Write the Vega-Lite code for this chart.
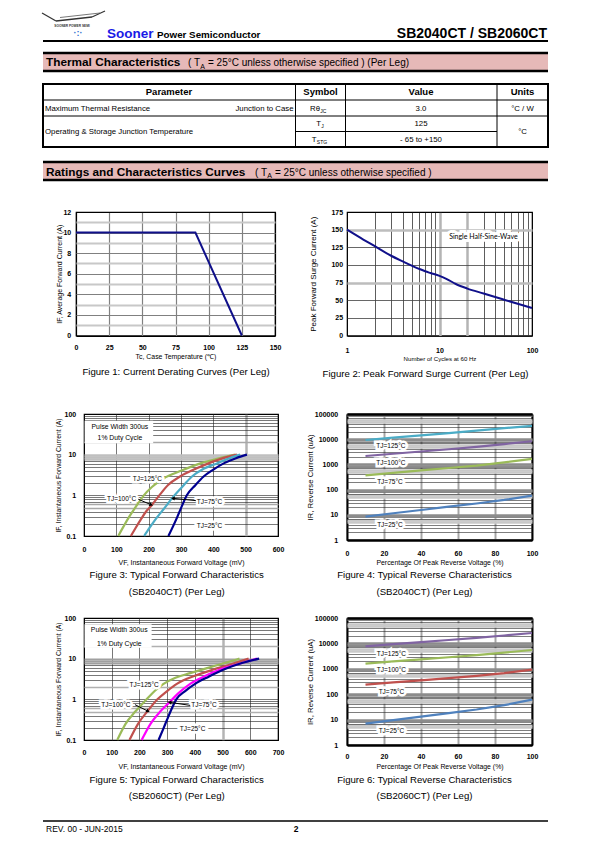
{
  "$schema": "https://vega.github.io/schema/vega-lite/v6.json",
  "padding": 0,
  "background": "white",
  "spacing": 0,
  "resolve": {"scale": {"color": "independent"}},
  "config": {
    "view": {"stroke": null},
    "font": "Liberation Sans",
    "concat": {"spacing": 0},
    "axis": {
      "labelFont": "Liberation Sans", "titleFont": "Liberation Sans",
      "labelColor": "black", "titleColor": "black",
      "labelFontWeight": "bold", "labelFontSize": 7,
      "titleFontWeight": "normal", "titleFontSize": 6.9,
      "ticks": false, "tickSize": 0, "domain": false, "grid": true,
      "labelFlush": false, "titleBaseline": "middle"
    },
    "title": {"font": "Liberation Sans", "fontSize": 9.6, "fontWeight": "normal", "color": "black", "orient": "bottom", "baseline": "top", "lineHeight": 16.6}
  },
  "datasets": {
    "f1": [{"tc": 0, "io": 10}, {"tc": 90, "io": 10}, {"tc": 125, "io": 0}],
    "f2": [{"n": 1, "ipk": 150}, {"n": 1.5, "ipk": 136}, {"n": 2, "ipk": 126.5}, {"n": 3, "ipk": 113}, {"n": 4, "ipk": 105}, {"n": 5, "ipk": 99}, {"n": 6, "ipk": 94.5}, {"n": 7, "ipk": 91}, {"n": 8, "ipk": 88.5}, {"n": 10, "ipk": 84.5}, {"n": 12, "ipk": 80}, {"n": 15, "ipk": 73}, {"n": 20, "ipk": 66.5}, {"n": 30, "ipk": 59.5}, {"n": 40, "ipk": 54.5}, {"n": 50, "ipk": 50.7}, {"n": 70, "ipk": 45}, {"n": 100, "ipk": 39}],
    "f2lab": [{"n": 29.8, "ipk": 139.8, "t": "Single Half-Sine-Wave"}],
    "f3": [
      {"vf": 106, "cur": 0.1, "tj": "125"}, {"vf": 122, "cur": 0.17, "tj": "125"}, {"vf": 140, "cur": 0.3, "tj": "125"}, {"vf": 160, "cur": 0.52, "tj": "125"}, {"vf": 185, "cur": 1.0, "tj": "125"}, {"vf": 210, "cur": 1.6, "tj": "125"}, {"vf": 246, "cur": 2.6, "tj": "125"}, {"vf": 300, "cur": 4.0, "tj": "125"}, {"vf": 360, "cur": 6.1, "tj": "125"}, {"vf": 420, "cur": 8.2, "tj": "125"}, {"vf": 468, "cur": 10, "tj": "125"},
      {"vf": 145, "cur": 0.1, "tj": "100"}, {"vf": 160, "cur": 0.16, "tj": "100"}, {"vf": 175, "cur": 0.25, "tj": "100"}, {"vf": 192, "cur": 0.4, "tj": "100"}, {"vf": 210, "cur": 0.58, "tj": "100"}, {"vf": 233, "cur": 1.0, "tj": "100"}, {"vf": 260, "cur": 1.8, "tj": "100"}, {"vf": 297, "cur": 2.9, "tj": "100"}, {"vf": 340, "cur": 4.3, "tj": "100"}, {"vf": 385, "cur": 6.1, "tj": "100"}, {"vf": 430, "cur": 8.2, "tj": "100"}, {"vf": 473, "cur": 10, "tj": "100"},
      {"vf": 186, "cur": 0.1, "tj": "75"}, {"vf": 203, "cur": 0.16, "tj": "75"}, {"vf": 220, "cur": 0.25, "tj": "75"}, {"vf": 250, "cur": 0.5, "tj": "75"}, {"vf": 272, "cur": 0.84, "tj": "75"}, {"vf": 300, "cur": 1.5, "tj": "75"}, {"vf": 334, "cur": 2.9, "tj": "75"}, {"vf": 370, "cur": 4.5, "tj": "75"}, {"vf": 411, "cur": 6.1, "tj": "75"}, {"vf": 450, "cur": 8.2, "tj": "75"}, {"vf": 483, "cur": 10, "tj": "75"},
      {"vf": 261, "cur": 0.1, "tj": "25"}, {"vf": 275, "cur": 0.17, "tj": "25"}, {"vf": 289, "cur": 0.3, "tj": "25"}, {"vf": 303, "cur": 0.55, "tj": "25"}, {"vf": 318, "cur": 1.0, "tj": "25"}, {"vf": 345, "cur": 1.8, "tj": "25"}, {"vf": 370, "cur": 2.9, "tj": "25"}, {"vf": 400, "cur": 4.3, "tj": "25"}, {"vf": 432, "cur": 6.1, "tj": "25"}, {"vf": 470, "cur": 8.2, "tj": "25"}, {"vf": 504, "cur": 10, "tj": "25"}
    ],
    "f3lab": [{"vf": 196, "cur": 2.5, "t": "TJ=125°C"}, {"vf": 116, "cur": 0.81, "t": "TJ=100°C"}, {"vf": 388, "cur": 0.675, "t": "TJ=75°C"}, {"vf": 388, "cur": 0.18, "t": "TJ=25°C"}],
    "f3box": [{"vf": 2, "vf2": 214, "cur": 19, "cur2": 68.4}],
    "f3note": [{"vf": 111, "cur": 48.7, "t": "Pulse Width 300us"}, {"vf": 111, "cur": 25.2, "t": "1% Duty Cycle"}],
    "f3arr": [{"vf": 168, "cur": 0.8, "vf2": 207, "cur2": 0.59}, {"vf": 346, "cur": 0.74, "vf2": 276, "cur2": 0.843}],
    "f3head": [{"vf": 208, "cur": 0.585, "dir": "r"}, {"vf": 275, "cur": 0.845, "dir": "l"}],
    "f5": [
      {"vf": 120, "cur": 0.1, "tj": "125"}, {"vf": 150, "cur": 0.25, "tj": "125"}, {"vf": 185, "cur": 0.5, "tj": "125"}, {"vf": 226, "cur": 1, "tj": "125"}, {"vf": 255, "cur": 1.6, "tj": "125"}, {"vf": 287, "cur": 2.4, "tj": "125"}, {"vf": 330, "cur": 3.4, "tj": "125"}, {"vf": 383, "cur": 4.4, "tj": "125"}, {"vf": 467, "cur": 6.5, "tj": "125"}, {"vf": 561, "cur": 10, "tj": "125"},
      {"vf": 164, "cur": 0.1, "tj": "100"}, {"vf": 195, "cur": 0.25, "tj": "100"}, {"vf": 232, "cur": 0.54, "tj": "100"}, {"vf": 265, "cur": 1, "tj": "100"}, {"vf": 300, "cur": 1.6, "tj": "100"}, {"vf": 335, "cur": 2.4, "tj": "100"}, {"vf": 400, "cur": 3.8, "tj": "100"}, {"vf": 467, "cur": 5.4, "tj": "100"}, {"vf": 530, "cur": 7.3, "tj": "100"}, {"vf": 594, "cur": 10, "tj": "100"},
      {"vf": 208, "cur": 0.1, "tj": "75"}, {"vf": 240, "cur": 0.25, "tj": "75"}, {"vf": 275, "cur": 0.5, "tj": "75"}, {"vf": 308, "cur": 0.84, "tj": "75"}, {"vf": 340, "cur": 1.4, "tj": "75"}, {"vf": 383, "cur": 2.4, "tj": "75"}, {"vf": 435, "cur": 3.7, "tj": "75"}, {"vf": 491, "cur": 5.4, "tj": "75"}, {"vf": 560, "cur": 7.5, "tj": "75"}, {"vf": 624, "cur": 10, "tj": "75"},
      {"vf": 269, "cur": 0.1, "tj": "25"}, {"vf": 285, "cur": 0.18, "tj": "25"}, {"vf": 300, "cur": 0.32, "tj": "25"}, {"vf": 316, "cur": 0.58, "tj": "25"}, {"vf": 333, "cur": 1, "tj": "25"}, {"vf": 365, "cur": 1.6, "tj": "25"}, {"vf": 401, "cur": 2.4, "tj": "25"}, {"vf": 450, "cur": 3.6, "tj": "25"}, {"vf": 504, "cur": 5.4, "tj": "25"}, {"vf": 570, "cur": 7.8, "tj": "25"}, {"vf": 632, "cur": 10, "tj": "25"}
    ],
    "f5lab": [{"vf": 217, "cur": 2.2, "t": "TJ=125°C"}, {"vf": 115, "cur": 0.73, "t": "TJ=100°C"}, {"vf": 433, "cur": 0.71, "t": "TJ=75°C"}, {"vf": 392, "cur": 0.19, "t": "TJ=25°C"}],
    "f5box": [{"vf": 2, "vf2": 244, "cur": 18.6, "cur2": 70}],
    "f5note": [{"vf": 127, "cur": 49.8, "t": "Pulse Width 300us"}, {"vf": 127, "cur": 23.3, "t": "1% Duty Cycle"}],
    "f5arr": [{"vf": 184, "cur": 0.74, "vf2": 229, "cur2": 0.52}, {"vf": 383, "cur": 0.71, "vf2": 310, "cur2": 0.842}],
    "f5head": [{"vf": 231, "cur": 0.51, "dir": "r"}, {"vf": 309, "cur": 0.845, "dir": "l"}],
    "f4": [
      {"pct": 10, "ua": 9300, "tj": "125"}, {"pct": 25, "ua": 11500, "tj": "125"}, {"pct": 40, "ua": 14200, "tj": "125"}, {"pct": 55, "ua": 17500, "tj": "125"}, {"pct": 70, "ua": 22000, "tj": "125"}, {"pct": 85, "ua": 27500, "tj": "125"}, {"pct": 100, "ua": 34000, "tj": "125"},
      {"pct": 10, "ua": 2150, "tj": "100"}, {"pct": 25, "ua": 2650, "tj": "100"}, {"pct": 40, "ua": 3250, "tj": "100"}, {"pct": 55, "ua": 4000, "tj": "100"}, {"pct": 70, "ua": 5000, "tj": "100"}, {"pct": 85, "ua": 6400, "tj": "100"}, {"pct": 100, "ua": 8300, "tj": "100"},
      {"pct": 10, "ua": 370, "tj": "75"}, {"pct": 25, "ua": 460, "tj": "75"}, {"pct": 40, "ua": 580, "tj": "75"}, {"pct": 55, "ua": 720, "tj": "75"}, {"pct": 70, "ua": 900, "tj": "75"}, {"pct": 85, "ua": 1200, "tj": "75"}, {"pct": 100, "ua": 1650, "tj": "75"},
      {"pct": 10, "ua": 8.5, "tj": "25"}, {"pct": 25, "ua": 11.5, "tj": "25"}, {"pct": 40, "ua": 15.5, "tj": "25"}, {"pct": 55, "ua": 21, "tj": "25"}, {"pct": 70, "ua": 28, "tj": "25"}, {"pct": 85, "ua": 39, "tj": "25"}, {"pct": 100, "ua": 58, "tj": "25"}
    ],
    "f4lab": [{"pct": 23.7, "ua": 5370, "t": "TJ=125°C"}, {"pct": 23.7, "ua": 1170, "t": "TJ=100°C"}, {"pct": 23.2, "ua": 206, "t": "TJ=75°C"}, {"pct": 23.2, "ua": 3.9, "t": "TJ=25°C"}],
    "f6": [
      {"pct": 10, "ua": 7700, "tj": "125"}, {"pct": 25, "ua": 9300, "tj": "125"}, {"pct": 40, "ua": 11300, "tj": "125"}, {"pct": 55, "ua": 13600, "tj": "125"}, {"pct": 70, "ua": 16500, "tj": "125"}, {"pct": 85, "ua": 20500, "tj": "125"}, {"pct": 100, "ua": 25700, "tj": "125"},
      {"pct": 10, "ua": 1600, "tj": "100"}, {"pct": 25, "ua": 1950, "tj": "100"}, {"pct": 40, "ua": 2350, "tj": "100"}, {"pct": 55, "ua": 2850, "tj": "100"}, {"pct": 70, "ua": 3450, "tj": "100"}, {"pct": 85, "ua": 4350, "tj": "100"}, {"pct": 100, "ua": 5500, "tj": "100"},
      {"pct": 10, "ua": 237, "tj": "75"}, {"pct": 25, "ua": 290, "tj": "75"}, {"pct": 40, "ua": 350, "tj": "75"}, {"pct": 55, "ua": 430, "tj": "75"}, {"pct": 70, "ua": 530, "tj": "75"}, {"pct": 85, "ua": 680, "tj": "75"}, {"pct": 100, "ua": 930, "tj": "75"},
      {"pct": 10, "ua": 6.9, "tj": "25"}, {"pct": 25, "ua": 9.5, "tj": "25"}, {"pct": 40, "ua": 13, "tj": "25"}, {"pct": 55, "ua": 18, "tj": "25"}, {"pct": 70, "ua": 25, "tj": "25"}, {"pct": 85, "ua": 37, "tj": "25"}, {"pct": 100, "ua": 61, "tj": "25"}
    ],
    "f6lab": [{"pct": 24, "ua": 3900, "t": "TJ=125°C"}, {"pct": 24, "ua": 870, "t": "TJ=100°C"}, {"pct": 24, "ua": 122, "t": "TJ=75°C"}, {"pct": 24, "ua": 3.5, "t": "TJ=25°C"}],
    "one": [{}]
  },
  "vconcat": [
    {
      "width": 595, "height": 207,
      "data": {"name": "one"},
      "layer": [
        {"mark": {"type": "rect", "fill": "#e6b9b8"}, "encoding": {"x": {"datum": 43, "type": "quantitative", "scale": {"domain": [0, 595], "nice": false, "zero": false}, "axis": null}, "x2": {"datum": 548}, "y": {"datum": 53, "type": "quantitative", "scale": {"domain": [0, 207], "nice": false, "zero": false, "reverse": true}, "axis": null}, "y2": {"datum": 71}}},
        {"mark": {"type": "rect", "fill": "#e6b9b8"}, "encoding": {"x": {"datum": 43, "type": "quantitative", "axis": null}, "x2": {"datum": 548}, "y": {"datum": 162, "type": "quantitative", "axis": null}, "y2": {"datum": 180}}},
        {"mark": {"type": "rule", "strokeWidth": 2, "color": "black"}, "encoding": {"x": {"datum": 43, "type": "quantitative", "axis": null}, "x2": {"datum": 548}, "y": {"datum": 41, "type": "quantitative", "axis": null}}},
        {"mark": {"type": "rule", "strokeWidth": 2.5, "color": "black"}, "encoding": {"x": {"datum": 43, "type": "quantitative", "axis": null}, "x2": {"datum": 548}, "y": {"datum": 53, "type": "quantitative", "axis": null}}},
        {"mark": {"type": "rule", "strokeWidth": 2.5, "color": "black"}, "encoding": {"x": {"datum": 43, "type": "quantitative", "axis": null}, "x2": {"datum": 548}, "y": {"datum": 71, "type": "quantitative", "axis": null}}},
        {"mark": {"type": "rule", "strokeWidth": 2.5, "color": "black"}, "encoding": {"x": {"datum": 43, "type": "quantitative", "axis": null}, "x2": {"datum": 548}, "y": {"datum": 162, "type": "quantitative", "axis": null}}},
        {"mark": {"type": "rule", "strokeWidth": 2.5, "color": "black"}, "encoding": {"x": {"datum": 43, "type": "quantitative", "axis": null}, "x2": {"datum": 548}, "y": {"datum": 180, "type": "quantitative", "axis": null}}},
        {"mark": {"type": "rect", "fill": "white", "fillOpacity": 0, "stroke": "black", "strokeWidth": 2}, "encoding": {"x": {"datum": 43, "type": "quantitative", "axis": null}, "x2": {"datum": 548}, "y": {"datum": 84, "type": "quantitative", "axis": null}, "y2": {"datum": 147}}},
        {"mark": {"type": "rule", "strokeWidth": 1, "color": "black"}, "encoding": {"x": {"datum": 43, "type": "quantitative", "axis": null}, "x2": {"datum": 548}, "y": {"datum": 100, "type": "quantitative", "axis": null}}},
        {"mark": {"type": "rule", "strokeWidth": 1, "color": "black"}, "encoding": {"x": {"datum": 43, "type": "quantitative", "axis": null}, "x2": {"datum": 548}, "y": {"datum": 116, "type": "quantitative", "axis": null}}},
        {"mark": {"type": "rule", "strokeWidth": 1, "color": "black"}, "encoding": {"x": {"datum": 295.5, "type": "quantitative", "axis": null}, "x2": {"datum": 497}, "y": {"datum": 131.5, "type": "quantitative", "axis": null}}},
        {"mark": {"type": "rule", "strokeWidth": 1, "color": "black"}, "encoding": {"x": {"datum": 295.5, "type": "quantitative", "axis": null}, "y": {"datum": 84, "type": "quantitative", "axis": null}, "y2": {"datum": 147}}},
        {"mark": {"type": "rule", "strokeWidth": 1, "color": "black"}, "encoding": {"x": {"datum": 345.5, "type": "quantitative", "axis": null}, "y": {"datum": 84, "type": "quantitative", "axis": null}, "y2": {"datum": 147}}},
        {"mark": {"type": "rule", "strokeWidth": 1, "color": "black"}, "encoding": {"x": {"datum": 497, "type": "quantitative", "axis": null}, "y": {"datum": 84, "type": "quantitative", "axis": null}, "y2": {"datum": 147}}},
        {"mark": {"type": "rule", "strokeWidth": 1.2, "color": "#333333"}, "encoding": {"x": {"datum": 42, "type": "quantitative", "axis": null}, "x2": {"datum": 56}, "y": {"datum": 13, "type": "quantitative", "axis": null}, "y2": {"datum": 21}}},
        {"mark": {"type": "rule", "strokeWidth": 1.6, "color": "#333333"}, "encoding": {"x": {"datum": 56, "type": "quantitative", "axis": null}, "x2": {"datum": 92}, "y": {"datum": 21, "type": "quantitative", "axis": null}, "y2": {"datum": 17}}},
        {"mark": {"type": "rule", "strokeWidth": 1.2, "color": "#333333"}, "encoding": {"x": {"datum": 92, "type": "quantitative", "axis": null}, "x2": {"datum": 105}, "y": {"datum": 17, "type": "quantitative", "axis": null}, "y2": {"datum": 11}}},
        {"mark": {"type": "rule", "strokeWidth": 0.8, "color": "#555555"}, "encoding": {"x": {"datum": 60, "type": "quantitative", "axis": null}, "x2": {"datum": 100}, "y": {"datum": 17.5, "type": "quantitative", "axis": null}, "y2": {"datum": 13}}},
        {"mark": {"type": "text", "align": "center", "baseline": "middle", "fontSize": 3.2, "fontWeight": "bold", "color": "#333333"}, "encoding": {"x": {"datum": 72, "type": "quantitative", "axis": null}, "y": {"datum": 25.5, "type": "quantitative", "axis": null}, "text": {"value": "SOONER POWER SEMI"}}},
        {"mark": {"type": "text", "align": "center", "baseline": "middle", "fontSize": 9, "fontWeight": "bold", "color": "#2f6fd0"}, "encoding": {"x": {"datum": 78, "type": "quantitative", "axis": null}, "y": {"datum": 32.5, "type": "quantitative", "axis": null}, "text": {"value": "·:·"}}},
        {"mark": {"type": "text", "align": "left", "baseline": "alphabetic", "fontSize": 13.5, "fontWeight": "bold", "color": "#1a1ae6"}, "encoding": {"x": {"datum": 107, "type": "quantitative", "axis": null}, "y": {"datum": 37.5, "type": "quantitative", "axis": null}, "text": {"value": "Sooner"}}},
        {"mark": {"type": "text", "align": "left", "baseline": "alphabetic", "fontSize": 9.8, "fontWeight": "bold", "color": "black"}, "encoding": {"x": {"datum": 157, "type": "quantitative", "axis": null}, "y": {"datum": 37.5, "type": "quantitative", "axis": null}, "text": {"value": "Power Semiconductor"}}},
        {"mark": {"type": "text", "align": "right", "baseline": "alphabetic", "fontSize": 14, "fontWeight": "bold", "color": "black"}, "encoding": {"x": {"datum": 547, "type": "quantitative", "axis": null}, "y": {"datum": 37.5, "type": "quantitative", "axis": null}, "text": {"value": "SB2040CT / SB2060CT"}}},
        {"mark": {"type": "text", "align": "left", "baseline": "alphabetic", "fontSize": 11.8, "fontWeight": "bold", "color": "black"}, "encoding": {"x": {"datum": 46, "type": "quantitative", "axis": null}, "y": {"datum": 66, "type": "quantitative", "axis": null}, "text": {"value": "Thermal Characteristics"}}},
        {"mark": {"type": "text", "align": "left", "baseline": "alphabetic", "fontSize": 10, "color": "black"}, "encoding": {"x": {"datum": 188, "type": "quantitative", "axis": null}, "y": {"datum": 66, "type": "quantitative", "axis": null}, "text": {"value": "( T"}}},
        {"mark": {"type": "text", "align": "left", "baseline": "alphabetic", "fontSize": 7, "color": "black"}, "encoding": {"x": {"datum": 200.3, "type": "quantitative", "axis": null}, "y": {"datum": 68.6, "type": "quantitative", "axis": null}, "text": {"value": "A"}}},
        {"mark": {"type": "text", "align": "left", "baseline": "alphabetic", "fontSize": 10, "color": "black"}, "encoding": {"x": {"datum": 208, "type": "quantitative", "axis": null}, "y": {"datum": 66, "type": "quantitative", "axis": null}, "text": {"value": "= 25°C unless otherwise specified ) (Per Leg)"}}},
        {"mark": {"type": "text", "align": "center", "baseline": "alphabetic", "fontSize": 9.5, "fontWeight": "bold", "color": "black"}, "encoding": {"x": {"datum": 169, "type": "quantitative", "axis": null}, "y": {"datum": 95.3, "type": "quantitative", "axis": null}, "text": {"value": "Parameter"}}},
        {"mark": {"type": "text", "align": "center", "baseline": "alphabetic", "fontSize": 9.5, "fontWeight": "bold", "color": "black"}, "encoding": {"x": {"datum": 320.5, "type": "quantitative", "axis": null}, "y": {"datum": 95.3, "type": "quantitative", "axis": null}, "text": {"value": "Symbol"}}},
        {"mark": {"type": "text", "align": "center", "baseline": "alphabetic", "fontSize": 9.5, "fontWeight": "bold", "color": "black"}, "encoding": {"x": {"datum": 421, "type": "quantitative", "axis": null}, "y": {"datum": 95.3, "type": "quantitative", "axis": null}, "text": {"value": "Value"}}},
        {"mark": {"type": "text", "align": "center", "baseline": "alphabetic", "fontSize": 9.5, "fontWeight": "bold", "color": "black"}, "encoding": {"x": {"datum": 522.5, "type": "quantitative", "axis": null}, "y": {"datum": 95.3, "type": "quantitative", "axis": null}, "text": {"value": "Units"}}},
        {"mark": {"type": "text", "align": "left", "baseline": "alphabetic", "fontSize": 7.8, "color": "black"}, "encoding": {"x": {"datum": 45, "type": "quantitative", "axis": null}, "y": {"datum": 110.8, "type": "quantitative", "axis": null}, "text": {"value": "Maximum Thermal Resistance"}}},
        {"mark": {"type": "text", "align": "right", "baseline": "alphabetic", "fontSize": 7.8, "color": "black"}, "encoding": {"x": {"datum": 293.5, "type": "quantitative", "axis": null}, "y": {"datum": 110.8, "type": "quantitative", "axis": null}, "text": {"value": "Junction to Case"}}},
        {"mark": {"type": "text", "align": "right", "baseline": "alphabetic", "fontSize": 7.8, "color": "black"}, "encoding": {"x": {"datum": 320, "type": "quantitative", "axis": null}, "y": {"datum": 110.8, "type": "quantitative", "axis": null}, "text": {"value": "Rθ"}}},
        {"mark": {"type": "text", "align": "left", "baseline": "alphabetic", "fontSize": 5, "color": "black"}, "encoding": {"x": {"datum": 320.3, "type": "quantitative", "axis": null}, "y": {"datum": 112.5, "type": "quantitative", "axis": null}, "text": {"value": "JC"}}},
        {"mark": {"type": "text", "align": "center", "baseline": "alphabetic", "fontSize": 7.8, "color": "black"}, "encoding": {"x": {"datum": 421, "type": "quantitative", "axis": null}, "y": {"datum": 110.8, "type": "quantitative", "axis": null}, "text": {"value": "3.0"}}},
        {"mark": {"type": "text", "align": "center", "baseline": "alphabetic", "fontSize": 7.8, "color": "black"}, "encoding": {"x": {"datum": 522.5, "type": "quantitative", "axis": null}, "y": {"datum": 110.8, "type": "quantitative", "axis": null}, "text": {"value": "°C / W"}}},
        {"mark": {"type": "text", "align": "left", "baseline": "alphabetic", "fontSize": 7.8, "color": "black"}, "encoding": {"x": {"datum": 45, "type": "quantitative", "axis": null}, "y": {"datum": 134.3, "type": "quantitative", "axis": null}, "text": {"value": "Operating & Storage Junction Temperature"}}},
        {"mark": {"type": "text", "align": "right", "baseline": "alphabetic", "fontSize": 7.8, "color": "black"}, "encoding": {"x": {"datum": 321, "type": "quantitative", "axis": null}, "y": {"datum": 126.3, "type": "quantitative", "axis": null}, "text": {"value": "T"}}},
        {"mark": {"type": "text", "align": "left", "baseline": "alphabetic", "fontSize": 5, "color": "black"}, "encoding": {"x": {"datum": 321.3, "type": "quantitative", "axis": null}, "y": {"datum": 128, "type": "quantitative", "axis": null}, "text": {"value": "J"}}},
        {"mark": {"type": "text", "align": "center", "baseline": "alphabetic", "fontSize": 7.8, "color": "black"}, "encoding": {"x": {"datum": 421, "type": "quantitative", "axis": null}, "y": {"datum": 126.3, "type": "quantitative", "axis": null}, "text": {"value": "125"}}},
        {"mark": {"type": "text", "align": "right", "baseline": "alphabetic", "fontSize": 7.8, "color": "black"}, "encoding": {"x": {"datum": 316.5, "type": "quantitative", "axis": null}, "y": {"datum": 141.8, "type": "quantitative", "axis": null}, "text": {"value": "T"}}},
        {"mark": {"type": "text", "align": "left", "baseline": "alphabetic", "fontSize": 5, "color": "black"}, "encoding": {"x": {"datum": 316.8, "type": "quantitative", "axis": null}, "y": {"datum": 143.5, "type": "quantitative", "axis": null}, "text": {"value": "STG"}}},
        {"mark": {"type": "text", "align": "center", "baseline": "alphabetic", "fontSize": 7.8, "color": "black"}, "encoding": {"x": {"datum": 421, "type": "quantitative", "axis": null}, "y": {"datum": 141.8, "type": "quantitative", "axis": null}, "text": {"value": "- 65  to +150"}}},
        {"mark": {"type": "text", "align": "center", "baseline": "alphabetic", "fontSize": 7.8, "color": "black"}, "encoding": {"x": {"datum": 522.5, "type": "quantitative", "axis": null}, "y": {"datum": 134.3, "type": "quantitative", "axis": null}, "text": {"value": "°C"}}},
        {"mark": {"type": "text", "align": "left", "baseline": "alphabetic", "fontSize": 11.8, "fontWeight": "bold", "color": "black"}, "encoding": {"x": {"datum": 46, "type": "quantitative", "axis": null}, "y": {"datum": 175.5, "type": "quantitative", "axis": null}, "text": {"value": "Ratings and Characteristics Curves"}}},
        {"mark": {"type": "text", "align": "left", "baseline": "alphabetic", "fontSize": 10, "color": "black"}, "encoding": {"x": {"datum": 255, "type": "quantitative", "axis": null}, "y": {"datum": 175.5, "type": "quantitative", "axis": null}, "text": {"value": "( T"}}},
        {"mark": {"type": "text", "align": "left", "baseline": "alphabetic", "fontSize": 7, "color": "black"}, "encoding": {"x": {"datum": 267.3, "type": "quantitative", "axis": null}, "y": {"datum": 178.1, "type": "quantitative", "axis": null}, "text": {"value": "A"}}},
        {"mark": {"type": "text", "align": "left", "baseline": "alphabetic", "fontSize": 10, "color": "black"}, "encoding": {"x": {"datum": 275, "type": "quantitative", "axis": null}, "y": {"datum": 175.5, "type": "quantitative", "axis": null}, "text": {"value": "= 25°C unless otherwise specified )"}}}
      ]
    },
    {
      "resolve": {"scale": {"color": "independent"}},
      "hconcat": [
        {"width": 76, "height": 197, "data": {"values": []}, "mark": "point"},
        {
          "width": 199, "height": 123.5,
          "view": {"stroke": "black", "strokeWidth": 1.2, "fill": "white"},
          "title": {"text": "Figure 1: Current Derating Curves (Per Leg)", "orient": "bottom", "frame": "group", "anchor": "middle", "dx": 0.5, "offset": 7.2},
          "data": {"name": "f1"},
          "mark": {"type": "line", "color": "#10108a", "strokeWidth": 2},
          "encoding": {
            "x": {"field": "tc", "type": "quantitative", "scale": {"domain": [0, 150], "nice": false, "zero": false},
              "axis": {"title": "Tc, Case Temperature (℃)", "values": [0, 25, 50, 75, 100, 125, 150], "labelOverlap": false, "labelPadding": 11.7, "labelBaseline": "middle", "titleY": 21, "titleFontSize": 6.9,
                "gridColor": {"condition": {"test": "datum.value==0||datum.value==150", "value": "black"}, "value": "#808080"}, "gridWidth": 1.2}},
            "y": {"field": "io", "type": "quantitative", "scale": {"domain": [0, 12], "nice": false},
              "axis": {"title": "IF, Average Forward Current (A)", "values": [0, 1, 2, 3, 4, 5, 6, 7, 8, 9, 10, 11, 12], "labelOverlap": false, "labelExpr": "datum.value%2==0 ? datum.label : ''", "labelPadding": 5.3, "titleX": -16.7, "titleFontSize": 7,
                "gridColor": {"condition": [{"test": "datum.value==0||datum.value==12", "value": "black"}, {"test": "datum.value%2==1", "value": "#c8c8c8"}], "value": "#808080"},
                "gridWidth": {"condition": {"test": "datum.value%2==1", "value": 2}, "value": 1}}}
          }
        },
        {"width": 72, "height": 1, "data": {"values": []}, "mark": "point"},
        {
          "width": 185, "height": 123.5,
          "view": {"stroke": "black", "strokeWidth": 1.2, "fill": "white"},
          "title": {"text": "Figure 2: Peak Forward Surge Current (Per Leg)", "orient": "bottom", "frame": "group", "anchor": "middle", "dx": -14, "offset": 6.8},
          "encoding": {
            "x": {"field": "n", "type": "quantitative", "scale": {"type": "log", "domain": [1, 100], "nice": false},
              "axis": {"title": "Number of Cycles at 60 Hz", "values": [1, 2, 3, 4, 5, 6, 7, 8, 9, 10, 20, 30, 40, 50, 60, 70, 80, 90, 100], "labelOverlap": false, "labelExpr": "(datum.value==1||datum.value==10||datum.value==100) ? format(datum.value,'d') : ''", "labelPadding": 14.7, "labelBaseline": "middle", "titleY": 23.3, "titleFontSize": 6.1,
                "gridColor": {"condition": [{"test": "datum.value==1||datum.value==100", "value": "black"}, {"test": "datum.value==10||datum.value==20", "value": "#b4b4b4"}], "value": "#333333"},
                "gridWidth": {"condition": {"test": "datum.value==10||datum.value==20", "value": 2.5}, "value": 0.8}}},
            "y": {"field": "ipk", "type": "quantitative", "scale": {"domain": [0, 175], "nice": false},
              "axis": {"title": "Peak Forward Surge Current (A)", "values": [0, 25, 50, 75, 100, 125, 150, 175], "labelOverlap": false, "labelPadding": 4.4, "titleX": -34, "titleFontSize": 8,
                "gridColor": {"condition": [{"test": "datum.value==0||datum.value==175", "value": "black"}, {"test": "datum.value==75||datum.value==150", "value": "#bdbdbd"}], "value": "#404040"},
                "gridWidth": {"condition": {"test": "datum.value==75||datum.value==150", "value": 2.5}, "value": 0.8}}}
          },
          "layer": [
            {"data": {"name": "f2"}, "mark": {"type": "line", "color": "#10108a", "strokeWidth": 2, "interpolate": "monotone"}},
            {"data": {"name": "f2lab"}, "mark": {"type": "text", "font": "Lato", "fontSize": 7, "color": "white", "stroke": "white", "strokeWidth": 6}, "encoding": {"text": {"field": "t"}}},
            {"data": {"name": "f2lab"}, "mark": {"type": "text", "font": "Lato", "fontSize": 7, "color": "black"}, "encoding": {"text": {"field": "t"}}}
          ]
        }
      ],
      "spacing": 0, "bounds": "flush"
    },
    {
      "resolve": {"scale": {"color": "independent"}},
      "hconcat": [
        {"width": 84, "height": 198.5, "data": {"values": []}, "mark": "point"},
        {
          "width": 194, "height": 122,
          "view": {"stroke": "black", "strokeWidth": 1.2, "fill": "white"},
          "title": {"text": ["Figure 3: Typical Forward Characteristics", "(SB2040CT) (Per Leg)"], "orient": "bottom", "frame": "group", "anchor": "middle", "dx": -4.3, "offset": 5},
          "encoding": {
            "x": {"field": "vf", "type": "quantitative", "scale": {"domain": [0, 600], "nice": false, "zero": false},
              "axis": {"title": "VF, Instantaneous Forward  Voltage (mV)", "values": [0, 100, 200, 300, 400, 500, 600], "labelOverlap": false, "labelPadding": 13, "labelBaseline": "middle", "titleY": 26.3, "titleFontSize": 7,
                "gridColor": {"condition": [{"test": "datum.value==0||datum.value==600", "value": "black"}, {"test": "datum.value==500", "value": "#b4b4b4"}], "value": "#555555"},
                "gridWidth": {"condition": {"test": "datum.value==500", "value": 2.5}, "value": 0.8}}},
            "y": {"field": "cur", "type": "quantitative", "scale": {"type": "log", "domain": [0.1, 100], "nice": false},
              "axis": {"title": "IF, Instantaneous Forward Current (A)", "values": [0.1, 0.2, 0.3, 0.4, 0.5, 0.6, 0.7, 0.8, 0.9, 1, 2, 3, 4, 5, 6, 7, 8, 9, 10, 20, 30, 40, 50, 60, 70, 80, 90, 100], "labelOverlap": false,
                "labelExpr": "round(datum.value/pow(10,floor(log(datum.value)/LN10+1e-9)))==1 ? format(datum.value,'~g') : ''", "labelPadding": 8.3, "titleX": -25.7, "titleFontSize": 6.8,
                "gridColor": {"condition": [{"test": "datum.value==0.1||datum.value==100", "value": "black"}, {"test": "datum.value==8||datum.value==9||datum.value==10", "value": "#bfbfbf"}, {"test": "datum.value==0.5||datum.value==0.6||datum.value==20", "value": "#a8a8a8"}], "value": "#1f1f1f"},
                "gridWidth": {"condition": [{"test": "datum.value==8||datum.value==9||datum.value==10", "value": 2.5}, {"test": "datum.value==0.5||datum.value==0.6||datum.value==20", "value": 1.6}], "value": 0.6}}}
          },
          "layer": [
            {"data": {"name": "f3box"}, "mark": {"type": "rect", "fill": "white"}, "encoding": {"x2": {"field": "vf2"}, "y2": {"field": "cur2"}}},
            {"data": {"name": "f3"}, "mark": {"type": "line", "strokeWidth": 2.2, "interpolate": "monotone"},
              "encoding": {"color": {"field": "tj", "type": "nominal", "scale": {"domain": ["125", "100", "75", "25"], "range": ["#9bbb59", "#c0504d", "#4bacc6", "#000090"]}, "legend": null}}},
            {"data": {"name": "f3note"}, "mark": {"type": "text", "fontSize": 6.8, "color": "black"}, "encoding": {"text": {"field": "t"}}},
            {"data": {"name": "f3lab"}, "mark": {"type": "text", "fontSize": 6.5, "color": "white", "stroke": "white", "strokeWidth": 5}, "encoding": {"text": {"field": "t"}}},
            {"data": {"name": "f3lab"}, "mark": {"type": "text", "fontSize": 6.5, "color": "black"}, "encoding": {"text": {"field": "t"}}},
            {"data": {"name": "f3arr"}, "mark": {"type": "rule", "color": "black", "strokeWidth": 1}, "encoding": {"x2": {"field": "vf2"}, "y2": {"field": "cur2"}}},
            {"data": {"name": "f3head"}, "transform": [{"filter": "datum.dir == 'r'"}], "mark": {"type": "point", "shape": "triangle-right", "angle": 23, "size": 18, "filled": true, "color": "black", "opacity": 1}},
            {"data": {"name": "f3head"}, "transform": [{"filter": "datum.dir == 'l'"}], "mark": {"type": "point", "shape": "triangle-left", "angle": 6, "size": 18, "filled": true, "color": "black", "opacity": 1}}
          ]
        },
        {"width": 69, "height": 1, "data": {"values": []}, "mark": "point"},
        {
          "width": 185, "height": 126,
          "view": {"stroke": "black", "strokeWidth": 1.2, "fill": "white"},
          "title": {"text": ["Figure 4: Typical Reverse Characteristics", "(SB2040CT) (Per Leg)"], "orient": "bottom", "frame": "group", "anchor": "middle", "dx": -15, "offset": 5},
          "encoding": {
            "x": {"field": "pct", "type": "quantitative", "scale": {"domain": [0, 100], "nice": false},
              "axis": {"title": "Percentage Of Peak Reverse Voltage (%)", "values": [0, 20, 40, 60, 80, 100], "labelOverlap": false, "labelPadding": 13.3, "labelBaseline": "middle", "titleY": 22.3, "titleFontSize": 6.9,
                "gridColor": {"condition": {"test": "datum.value==0||datum.value==100", "value": "black"}, "value": "#a6a6a6"}, "gridWidth": 2}},
            "y": {"field": "ua", "type": "quantitative", "scale": {"type": "log", "domain": [1, 100000], "nice": false},
              "axis": {"title": "IR, Reverse Current (uA)", "values": [1, 2, 3, 4, 5, 6, 7, 8, 9, 10, 20, 30, 40, 50, 60, 70, 80, 90, 100, 200, 300, 400, 500, 600, 700, 800, 900, 1000, 2000, 3000, 4000, 5000, 6000, 7000, 8000, 9000, 10000, 20000, 30000, 40000, 50000, 60000, 70000, 80000, 90000, 100000], "labelOverlap": false,
                "labelExpr": "round(datum.value/pow(10,floor(log(datum.value)/LN10+1e-9)))==1 ? format(datum.value,'~g') : ''", "labelPadding": 9.3, "titleX": -36.3, "titleFontSize": 7.8,
                "gridColor": {"condition": [{"test": "datum.value==1||datum.value==100000", "value": "black"}, {"test": "indexof([1,9], round(datum.value/pow(10,floor(log(datum.value)/LN10+1e-9))))>=0", "value": "#8c8c8c"}, {"test": "indexof([5,6], round(datum.value/pow(10,floor(log(datum.value)/LN10+1e-9))))>=0", "value": "#c8c8c8"}], "value": "#262626"},
                "gridWidth": {"condition": [{"test": "indexof([1,9,5,6], round(datum.value/pow(10,floor(log(datum.value)/LN10+1e-9))))>=0", "value": 2.5}], "value": 0.6}}}
          },
          "layer": [
            {"data": {"name": "f4"}, "mark": {"type": "line", "strokeWidth": 2.2},
              "encoding": {"color": {"field": "tj", "type": "nominal", "scale": {"domain": ["125", "100", "75", "25"], "range": ["#4bacc6", "#8064a2", "#9bbb59", "#4f81bd"]}, "legend": null}}},
            {"data": {"name": "f4lab"}, "mark": {"type": "text", "fontSize": 6.5, "color": "white", "stroke": "white", "strokeWidth": 5}, "encoding": {"text": {"field": "t"}}},
            {"data": {"name": "f4lab"}, "mark": {"type": "text", "fontSize": 6.5, "color": "black"}, "encoding": {"text": {"field": "t"}}}
          ]
        }
      ],
      "spacing": 0, "bounds": "flush"
    },
    {
      "resolve": {"scale": {"color": "independent"}},
      "hconcat": [
        {"width": 84, "height": 195, "data": {"values": []}, "mark": "point"},
        {
          "width": 194, "height": 122,
          "view": {"stroke": "black", "strokeWidth": 1.2, "fill": "white"},
          "title": {"text": ["Figure 5: Typical Forward Characteristics", "(SB2060CT) (Per Leg)"], "orient": "bottom", "frame": "group", "anchor": "middle", "dx": -4.3, "offset": 4.9},
          "encoding": {
            "x": {"field": "vf", "type": "quantitative", "scale": {"domain": [0, 700], "nice": false, "zero": false},
              "axis": {"title": "VF, Instantaneous Forward  Voltage (mV)", "values": [0, 100, 200, 300, 400, 500, 600, 700], "labelOverlap": false, "labelPadding": 12.7, "labelBaseline": "middle", "titleY": 26.7, "titleFontSize": 7,
                "gridColor": {"condition": [{"test": "datum.value==0||datum.value==700", "value": "black"}, {"test": "datum.value==500", "value": "#b4b4b4"}], "value": "#555555"},
                "gridWidth": {"condition": {"test": "datum.value==500", "value": 2.5}, "value": 0.8}}},
            "y": {"field": "cur", "type": "quantitative", "scale": {"type": "log", "domain": [0.1, 100], "nice": false},
              "axis": {"title": "IF, Instantaneous Forward Current (A)", "values": [0.1, 0.2, 0.3, 0.4, 0.5, 0.6, 0.7, 0.8, 0.9, 1, 2, 3, 4, 5, 6, 7, 8, 9, 10, 20, 30, 40, 50, 60, 70, 80, 90, 100], "labelOverlap": false,
                "labelExpr": "round(datum.value/pow(10,floor(log(datum.value)/LN10+1e-9)))==1 ? format(datum.value,'~g') : ''", "labelPadding": 8.3, "titleX": -25.7, "titleFontSize": 6.8,
                "gridColor": {"condition": [{"test": "datum.value==0.1||datum.value==100", "value": "black"}, {"test": "datum.value==8||datum.value==9||datum.value==10", "value": "#a0a0a0"}, {"test": "datum.value==0.5||datum.value==0.6||datum.value==20||datum.value==2", "value": "#b0b0b0"}], "value": "#1f1f1f"},
                "gridWidth": {"condition": [{"test": "datum.value==8||datum.value==9||datum.value==10", "value": 2}, {"test": "datum.value==0.5||datum.value==0.6||datum.value==20||datum.value==2", "value": 1.6}], "value": 0.6}}}
          },
          "layer": [
            {"data": {"name": "f5box"}, "mark": {"type": "rect", "fill": "white"}, "encoding": {"x2": {"field": "vf2"}, "y2": {"field": "cur2"}}},
            {"data": {"name": "f5"}, "mark": {"type": "line", "strokeWidth": 2.2, "interpolate": "monotone"},
              "encoding": {"color": {"field": "tj", "type": "nominal", "scale": {"domain": ["125", "100", "75", "25"], "range": ["#9bbb59", "#c0504d", "#ff00ff", "#000090"]}, "legend": null}}},
            {"data": {"name": "f5note"}, "mark": {"type": "text", "fontSize": 6.8, "color": "black"}, "encoding": {"text": {"field": "t"}}},
            {"data": {"name": "f5lab"}, "mark": {"type": "text", "fontSize": 6.5, "color": "white", "stroke": "white", "strokeWidth": 5}, "encoding": {"text": {"field": "t"}}},
            {"data": {"name": "f5lab"}, "mark": {"type": "text", "fontSize": 6.5, "color": "black"}, "encoding": {"text": {"field": "t"}}},
            {"data": {"name": "f5arr"}, "mark": {"type": "rule", "color": "black", "strokeWidth": 1}, "encoding": {"x2": {"field": "vf2"}, "y2": {"field": "cur2"}}},
            {"data": {"name": "f5head"}, "transform": [{"filter": "datum.dir == 'r'"}], "mark": {"type": "point", "shape": "triangle-right", "angle": 26, "size": 18, "filled": true, "color": "black", "opacity": 1}},
            {"data": {"name": "f5head"}, "transform": [{"filter": "datum.dir == 'l'"}], "mark": {"type": "point", "shape": "triangle-left", "angle": 8, "size": 18, "filled": true, "color": "black", "opacity": 1}}
          ]
        },
        {"width": 69, "height": 1, "data": {"values": []}, "mark": "point"},
        {
          "width": 185, "height": 127,
          "view": {"stroke": "black", "strokeWidth": 1.2, "fill": "white"},
          "title": {"text": ["Figure 6: Typical Reverse Characteristics", "(SB2060CT) (Per Leg)"], "orient": "bottom", "frame": "group", "anchor": "middle", "dx": -15, "offset": 4.9},
          "encoding": {
            "x": {"field": "pct", "type": "quantitative", "scale": {"domain": [0, 100], "nice": false},
              "axis": {"title": "Percentage Of Peak Reverse Voltage (%)", "values": [0, 20, 40, 60, 80, 100], "labelOverlap": false, "labelPadding": 11.7, "labelBaseline": "middle", "titleY": 21.7, "titleFontSize": 6.9,
                "gridColor": {"condition": {"test": "datum.value==0||datum.value==100", "value": "black"}, "value": "#a6a6a6"}, "gridWidth": 2}},
            "y": {"field": "ua", "type": "quantitative", "scale": {"type": "log", "domain": [1, 100000], "nice": false},
              "axis": {"title": "IR, Reverse Current (uA)", "values": [1, 2, 3, 4, 5, 6, 7, 8, 9, 10, 20, 30, 40, 50, 60, 70, 80, 90, 100, 200, 300, 400, 500, 600, 700, 800, 900, 1000, 2000, 3000, 4000, 5000, 6000, 7000, 8000, 9000, 10000, 20000, 30000, 40000, 50000, 60000, 70000, 80000, 90000, 100000], "labelOverlap": false,
                "labelExpr": "round(datum.value/pow(10,floor(log(datum.value)/LN10+1e-9)))==1 ? format(datum.value,'~g') : ''", "labelPadding": 9.3, "titleX": -36.3, "titleFontSize": 7.8,
                "gridColor": {"condition": [{"test": "datum.value==1||datum.value==100000", "value": "black"}, {"test": "indexof([1,9], round(datum.value/pow(10,floor(log(datum.value)/LN10+1e-9))))>=0", "value": "#8c8c8c"}, {"test": "indexof([5,6], round(datum.value/pow(10,floor(log(datum.value)/LN10+1e-9))))>=0", "value": "#c8c8c8"}], "value": "#262626"},
                "gridWidth": {"condition": [{"test": "indexof([1,9,5,6], round(datum.value/pow(10,floor(log(datum.value)/LN10+1e-9))))>=0", "value": 2.5}], "value": 0.6}}}
          },
          "layer": [
            {"data": {"name": "f6"}, "mark": {"type": "line", "strokeWidth": 2.2},
              "encoding": {"color": {"field": "tj", "type": "nominal", "scale": {"domain": ["125", "100", "75", "25"], "range": ["#8064a2", "#9bbb59", "#c0504d", "#4f81bd"]}, "legend": null}}},
            {"data": {"name": "f6lab"}, "mark": {"type": "text", "fontSize": 6.5, "color": "white", "stroke": "white", "strokeWidth": 5}, "encoding": {"text": {"field": "t"}}},
            {"data": {"name": "f6lab"}, "mark": {"type": "text", "fontSize": 6.5, "color": "black"}, "encoding": {"text": {"field": "t"}}}
          ]
        }
      ],
      "spacing": 0, "bounds": "flush"
    },
    {
      "width": 595, "height": 25,
      "data": {"name": "one"},
      "layer": [
        {"mark": {"type": "rule", "strokeWidth": 1.3, "color": "black"}, "encoding": {"x": {"datum": 43, "type": "quantitative", "scale": {"domain": [0, 595], "nice": false, "zero": false}, "axis": null}, "x2": {"datum": 548}, "y": {"datum": 818, "type": "quantitative", "scale": {"domain": [810, 835], "nice": false, "zero": false, "reverse": true}, "axis": null}}},
        {"mark": {"type": "text", "align": "left", "baseline": "alphabetic", "fontSize": 8.5, "color": "black"}, "encoding": {"x": {"datum": 46, "type": "quantitative", "axis": null}, "y": {"datum": 829, "type": "quantitative", "axis": null}, "text": {"value": "REV. 00 - JUN-2015"}}},
        {"mark": {"type": "text", "align": "center", "baseline": "alphabetic", "fontSize": 8.5, "fontWeight": "bold", "color": "black"}, "encoding": {"x": {"datum": 296, "type": "quantitative", "axis": null}, "y": {"datum": 829, "type": "quantitative", "axis": null}, "text": {"value": "2"}}}
      ]
    }
  ]
}
